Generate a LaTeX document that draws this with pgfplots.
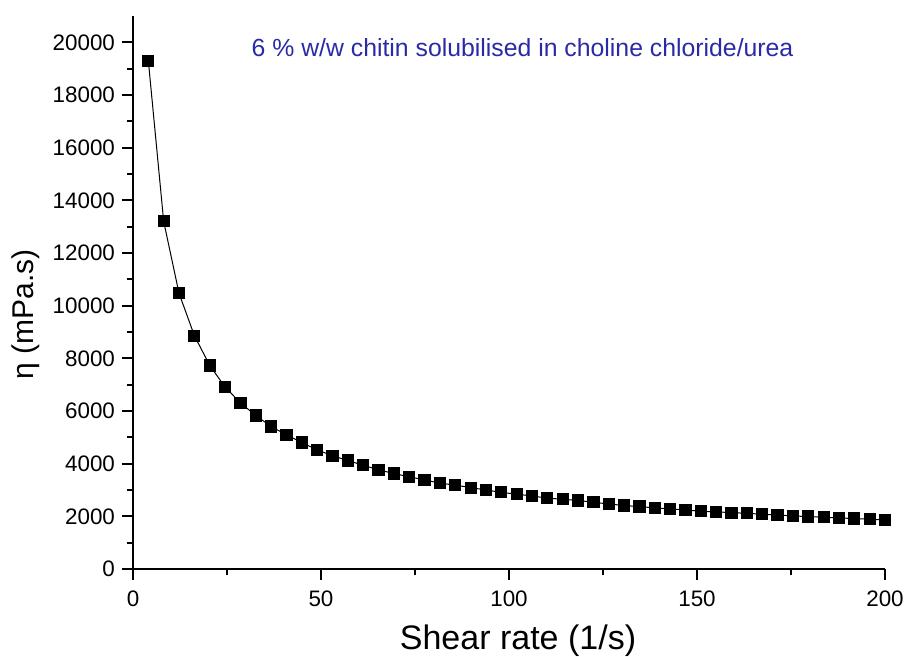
\documentclass[border=0pt]{standalone}
\usepackage{fontspec}
\setmainfont{Liberation Sans}
\usepackage{pgfplots}
\pgfplotsset{compat=1.18}
\usetikzlibrary{calc}
\definecolor{titleBlue}{HTML}{2A2AA6}

\begin{document}
\begin{tikzpicture}
  \useasboundingbox (-66.5pt,-44pt) rectangle (385.5pt,284.5pt);
  \begin{axis}[
    scale only axis,
    width=376pt, height=276.5pt,
    at={(0,0)}, anchor=south west,
    xmin=0, xmax=200, ymin=0, ymax=21000,
    axis lines=left,
    axis line style={-, line width=0.9pt},
    xtick={0,50,...,200},
    ytick={0,2000,...,20000},
    minor x tick num=1, minor y tick num=1,
    tick align=outside,
    major tick length=5.5pt, minor tick length=3.2pt,
    tick style={black, line width=0.9pt},
    scaled ticks=false,
    ticklabel style={font=\fontsize{11.2}{13}\selectfont},
    xticklabel style={yshift=-2pt},
    /pgf/number format/assume math mode=true,
    /pgf/number format/1000 sep={},
    xlabel={Shear rate (1/s)},
    ylabel={η (mPa.s)},
    xlabel style={font=\fontsize{17}{19}\selectfont,
      at={($(axis description cs:0.512,0)+(0,-36pt)$)}, anchor=center},
    ylabel style={font=\fontsize{15}{17}\selectfont,
      at={($(axis description cs:0,0.461)+(-53.5pt,0)$)}, anchor=center},
  ]
    \addplot[black, line width=0.5pt, mark=square*, mark size=2.8pt, mark options={solid}]
      coordinates {
        (4.08,19300) (8.16,13200) (12.24,10470) (16.33,8860) (20.41,7730)
        (24.49,6910) (28.57,6310) (32.65,5830) (36.73,5410) (40.82,5095)
        (44.90,4800) (48.98,4525) (53.06,4300) (57.14,4120) (61.22,3940)
        (65.31,3765) (69.39,3625) (73.47,3500) (77.55,3385) (81.63,3260)
        (85.71,3185) (89.80,3090) (93.88,3000) (97.96,2910) (102.04,2840)
        (106.12,2775) (110.20,2690) (114.29,2650) (118.37,2600) (122.45,2535)
        (126.53,2470) (130.61,2410) (134.69,2370) (138.78,2320) (142.86,2280)
        (146.94,2245) (151.02,2190) (155.10,2170) (159.18,2140) (163.27,2115)
        (167.35,2080) (171.43,2050) (175.51,2015) (179.59,1990) (183.67,1965)
        (187.76,1940) (191.84,1915) (195.92,1890) (200,1865)
      };
    \node[font=\fontsize{12.4}{14}\selectfont, text=titleBlue]
      at (rel axis cs:0.518,0.942) {6 \% w/w chitin solubilised in choline chloride/urea};
  \end{axis}
\end{tikzpicture}
\end{document}
